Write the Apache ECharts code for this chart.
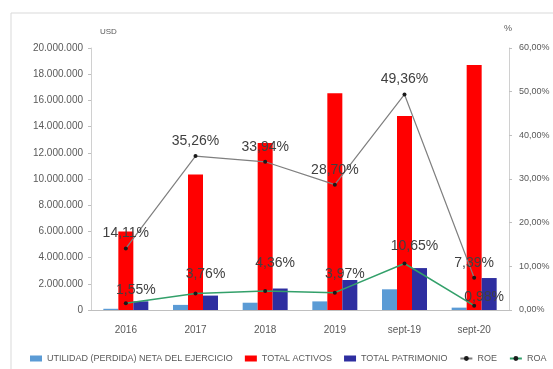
<!DOCTYPE html>
<html>
<head>
<meta charset="utf-8">
<script src="https://cdn.jsdelivr.net/npm/echarts@6/dist/echarts.min.js"></script>
<style>
  html, body { margin: 0; padding: 0; background: #ffffff; }
  #chart { width: 553px; height: 369px; }
</style>
</head>
<body>
<div id="chart"></div>
<script>
// Periods on the category axis
const periods = ['2016', '2017', '2018', '2019', 'sept-19', 'sept-20'];

// Amounts in USD
const utilidad = [93000, 390000, 556000, 657000, 1580000, 180000];
const totalActivos = [6000000, 10350000, 12750000, 16550000, 14800000, 18700000];
const totalPatrimonio = [660000, 1100000, 1640000, 2290000, 3200000, 2440000];

// Ratios in percent
const roe = [14.11, 35.26, 33.94, 28.70, 49.36, 7.39];
const roa = [1.55, 3.76, 4.36, 3.97, 10.65, 0.98];

// Left and right axis ticks
const usdTicks = { min: 0, max: 20000000, step: 2000000 };
const pctTicks = { min: 0, max: 60, step: 10 };

// Extra vertical nudge for each ROA label (pixels, negative = up)
const roaLabelNudge = [4, -2, -11, -2, 0, 8];

const fontFamily = '"Liberation Sans", Arial, sans-serif';
const labelGrey = '#595959';

function usdFormat(v) {
  return String(Math.round(v)).replace(/\B(?=(\d{3})+(?!\d))/g, '.');
}
function pctFormat(v) {
  return v.toFixed(2).replace('.', ',') + '%';
}

const chart = echarts.init(document.getElementById('chart'), null, { renderer: 'canvas' });

const lineLabel = {
  show: true,
  position: 'top',
  fontFamily: fontFamily,
  fontSize: 14,
  color: '#404040',
  formatter: p => pctFormat(p.value)
};

chart.setOption({
  animation: false,
  backgroundColor: '#ffffff',
  textStyle: { fontFamily: fontFamily },
  grid: { left: 91, right: 44, top: 48, bottom: 59, containLabel: false },
  graphic: [
    { type: 'line', shape: { x1: 11, y1: 13, x2: 553, y2: 13 }, style: { stroke: '#d9d9d9', lineWidth: 1 } },
    { type: 'line', shape: { x1: 11, y1: 13, x2: 11, y2: 369 }, style: { stroke: '#d9d9d9', lineWidth: 1 } },
    { type: 'text', left: 100, top: 28, style: { text: 'USD', fontFamily: fontFamily, fontSize: 8, fill: labelGrey } },
    { type: 'text', left: 504, top: 24, style: { text: '%', fontFamily: fontFamily, fontSize: 9, fill: labelGrey } }
  ],
  legend: {
    left: 25,
    top: 349,
    itemGap: 12,
    itemWidth: 12,
    itemHeight: 6,
    textStyle: { fontFamily: fontFamily, fontSize: 9, color: labelGrey },
    data: [
      { name: 'UTILIDAD (PERDIDA) NETA DEL EJERCICIO', icon: 'rect' },
      { name: 'TOTAL ACTIVOS', icon: 'rect' },
      { name: 'TOTAL PATRIMONIO', icon: 'rect' },
      { name: 'ROE' },
      { name: 'ROA' }
    ]
  },
  xAxis: {
    type: 'category',
    data: periods,
    axisLine: { lineStyle: { color: '#bfbfbf' } },
    axisTick: { show: false },
    axisLabel: { color: labelGrey, fontSize: 10, margin: 15 }
  },
  yAxis: [
    {
      type: 'value',
      min: usdTicks.min,
      max: usdTicks.max,
      interval: usdTicks.step,
      position: 'left',
      splitLine: { show: false },
      axisLine: { show: true, lineStyle: { color: '#d0d0d0' } },
      axisTick: { show: true, length: 3, lineStyle: { color: '#bfbfbf' } },
      axisLabel: { color: labelGrey, fontSize: 10, margin: 8, formatter: usdFormat }
    },
    {
      type: 'value',
      min: pctTicks.min,
      max: pctTicks.max,
      interval: pctTicks.step,
      position: 'right',
      splitLine: { show: false },
      axisLine: { show: true, lineStyle: { color: '#d0d0d0' } },
      axisTick: { show: true, length: 3, lineStyle: { color: '#bfbfbf' } },
      axisLabel: { color: labelGrey, fontSize: 9, margin: 10, formatter: v => pctFormat(v) }
    }
  ],
  series: [
    {
      name: 'UTILIDAD (PERDIDA) NETA DEL EJERCICIO',
      type: 'bar',
      data: utilidad,
      barWidth: 15,
      barGap: '0%',
      itemStyle: { color: '#5b9bd5' }
    },
    {
      name: 'TOTAL ACTIVOS',
      type: 'bar',
      data: totalActivos,
      barWidth: 15,
      barGap: '0%',
      itemStyle: { color: '#ff0000' }
    },
    {
      name: 'TOTAL PATRIMONIO',
      type: 'bar',
      data: totalPatrimonio,
      barWidth: 15,
      barGap: '0%',
      itemStyle: { color: '#2e2ea0' }
    },
    {
      name: 'ROE',
      type: 'line',
      yAxisIndex: 1,
      data: roe,
      symbol: 'circle',
      symbolSize: 4,
      itemStyle: { color: '#1a1a1a' },
      lineStyle: { color: '#7f7f7f', width: 1.2 },
      label: Object.assign({}, lineLabel, { distance: 6 }),
      z: 5
    },
    {
      name: 'ROA',
      type: 'line',
      yAxisIndex: 1,
      data: roa.map((v, i) => ({
        value: v,
        label: { offset: [10, roaLabelNudge[i]] }
      })),
      symbol: 'circle',
      symbolSize: 4,
      itemStyle: { color: '#1a1a1a' },
      lineStyle: { color: '#33a06a', width: 1.5 },
      label: Object.assign({}, lineLabel, { distance: 8 }),
      z: 5
    }
  ]
});
</script>
</body>
</html>
